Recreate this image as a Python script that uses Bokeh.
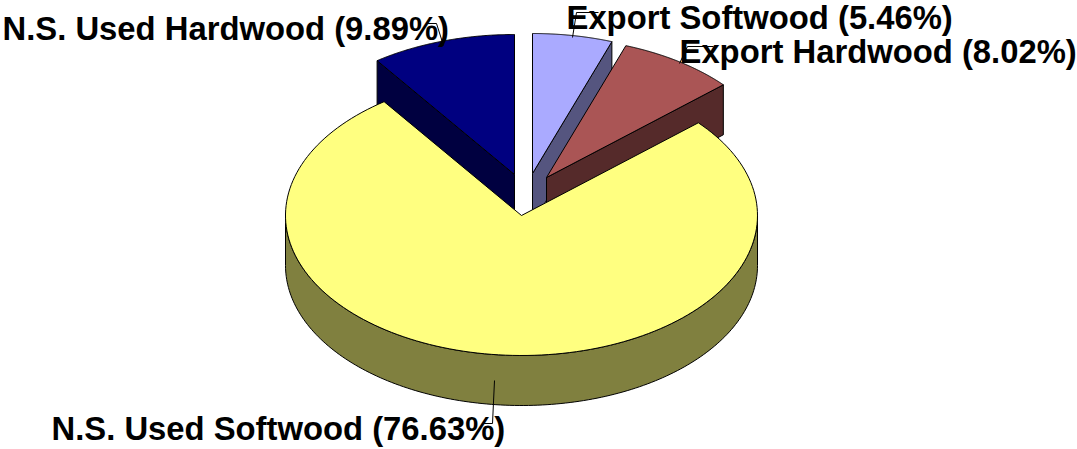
import numpy as np
from bokeh.plotting import figure
from bokeh.embed import file_html
from bokeh.resources import INLINE
from bokeh.core.properties import value

categories = ["Export Softwood", "Export Hardwood", "N.S. Used Softwood", "N.S. Used Hardwood"]
shares = [5.46, 8.02, 76.63, 9.89]

top_colors = ["#AAAAFF", "#AA5555", "#FFFF80", "#000080"]
side_colors = ["#55557F", "#552A2A", "#80803F", "#000040"]

# Pie geometry, in pixels of the picture
CX, CY, RX, RY, DEPTH = 521.0, 215.0, 236.0, 140.0, 50.0
explode = [(11, -42), (25, -38), (0, 0), (-7, -41)]

label_pos = [(566, 17), (679, 51), (51, 428), (2, 28)]
leaders = [
    ([572, 576, 598], [37, 12, 12]),
    ([679, 687, 713], [63, 46, 46]),
    ([494, 492, 483], [380, 423, 423]),
    ([443, 436, 427], [45, 23, 23]),
]

p = figure(width=1077, height=449, x_range=(0, 1077), y_range=(449, 0),
           output_backend="svg", toolbar_location=None, min_border=0,
           x_axis_type=None, y_axis_type=None, outline_line_color=None,
           background_fill_color="white", border_fill_color="white")
p.grid.visible = False

edges = np.radians(np.cumsum([0] + shares) / sum(shares) * 360)


def rim(t0, t1, ox, oy, n=160):
    t = np.linspace(t0, t1, n)
    return CX + ox + RX * np.sin(t), CY + oy - RY * np.cos(t)


def draw_cut_face(t, color, ox, oy):
    x = [CX + ox, CX + ox + RX * np.sin(t), CX + ox + RX * np.sin(t), CX + ox]
    y = [CY + oy, CY + oy - RY * np.cos(t), CY + oy - RY * np.cos(t) + DEPTH, CY + oy + DEPTH]
    p.patch(x, y, fill_color=color, line_color="black", line_width=1)


def draw_top(i):
    ox, oy = explode[i]
    x, y = rim(edges[i], edges[i + 1], ox, oy)
    p.patch(np.r_[CX + ox, x], np.r_[CY + oy, y], fill_color=top_colors[i],
            line_color="black", line_width=1)


# Back to front: each wedge's visible cut face, then its top
draw_cut_face(edges[1], side_colors[0], *explode[0])
draw_top(0)
draw_cut_face(edges[3], side_colors[3], *explode[3])
draw_top(3)
draw_cut_face(edges[2], side_colors[1], *explode[1])
draw_top(1)

# Large wedge: outer wall, then top
wx, wy = rim(np.pi / 2, 3 * np.pi / 2, 0, 0)
p.patch(np.r_[wx, wx[::-1]], np.r_[wy, wy[::-1] + DEPTH],
        fill_color=side_colors[2], line_color="black", line_width=1)
draw_top(2)

labels = [f"{c} ({s:.2f}%)" for c, s in zip(categories, shares)]
p.text([q[0] for q in label_pos], [q[1] for q in label_pos], text=labels,
       text_font=value("Liberation Sans"), text_font_style="bold",
       text_font_size="32.8px", text_color="black",
       text_align="left", text_baseline="middle")

for (lx, ly) in leaders:
    p.line(lx, ly, line_color="black", line_width=1)

open("out.html", "w").write(file_html(p, INLINE))
